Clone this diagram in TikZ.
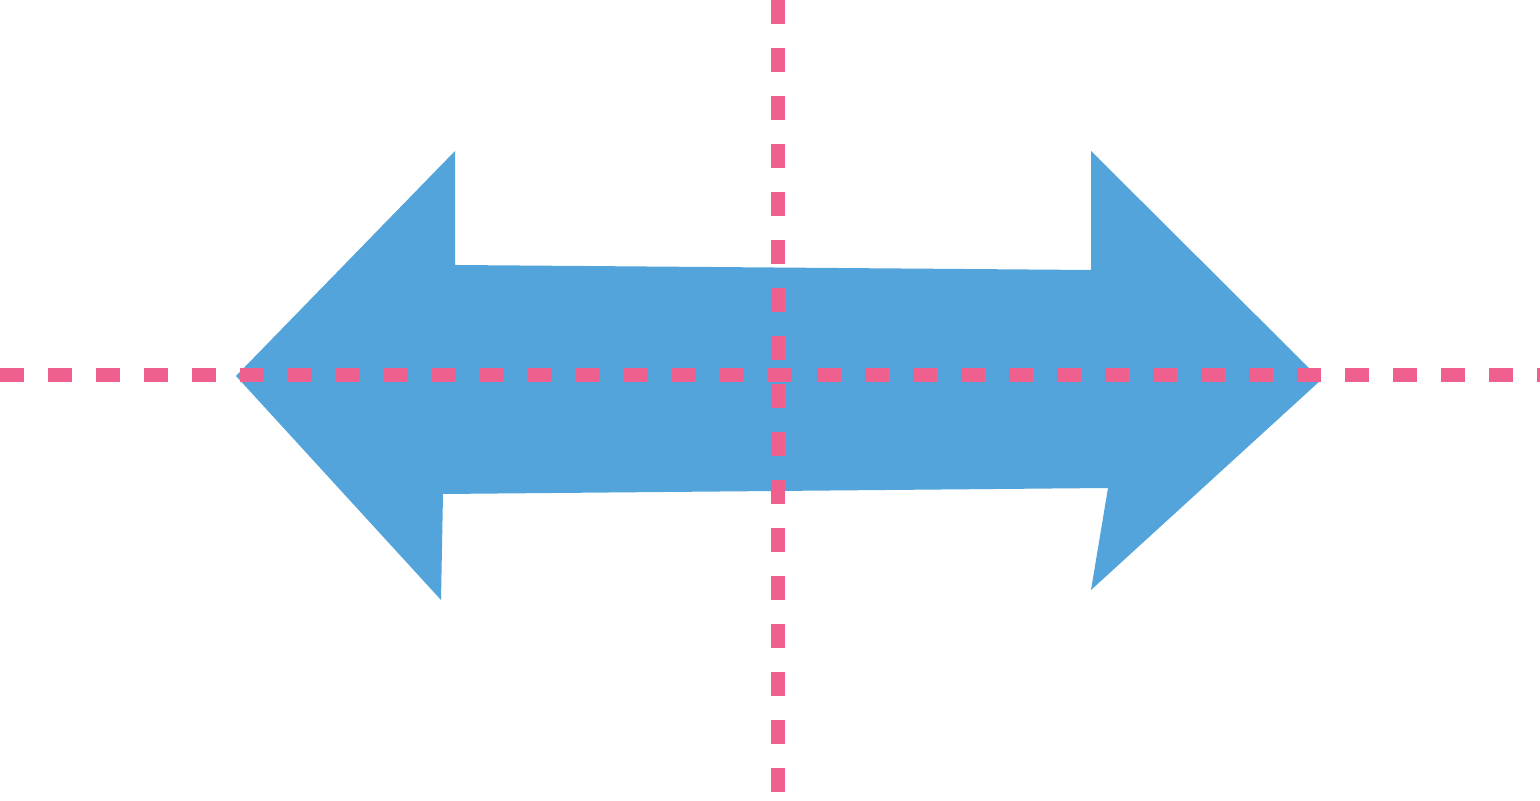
\documentclass[tikz,border=0pt]{standalone}
\usetikzlibrary{positioning}
\definecolor{arrowblue}{RGB}{83,164,219}
\definecolor{axispink}{RGB}{240,96,143}
\tikzset{x = 0.01cm, y = -0.01cm,
         arrow body/.style = {fill = arrowblue, draw = none},
         axis line/.style = {draw = axispink, line width = 0.14cm,
                             dash pattern = on 0.24cm off 0.24cm}}

\begin{document}
\begin{tikzpicture}
              \useasboundingbox (0,0) rectangle (1540,801);

              % the double arrow
              \coordinate (L)  at (236,376);
              \coordinate (R)  at (1321,380);
              \path[arrow body] (L) -- (455,151) -- (455,265) -- (1091,270)
                    -- (1091,151) -- (R) -- (1091,590) -- (1108,488)
                    -- (443,494) -- (441,600) -- cycle;

              % axes
              \coordinate (W) at (0,375);
              \coordinate (E) at (1540,375);
              \coordinate (N) at (778,0);
              \coordinate (S) at (778,801);
              \path[axis line] (W) -- (E);
              \path[axis line] (N) -- (S);
\end{tikzpicture}
\end{document}
